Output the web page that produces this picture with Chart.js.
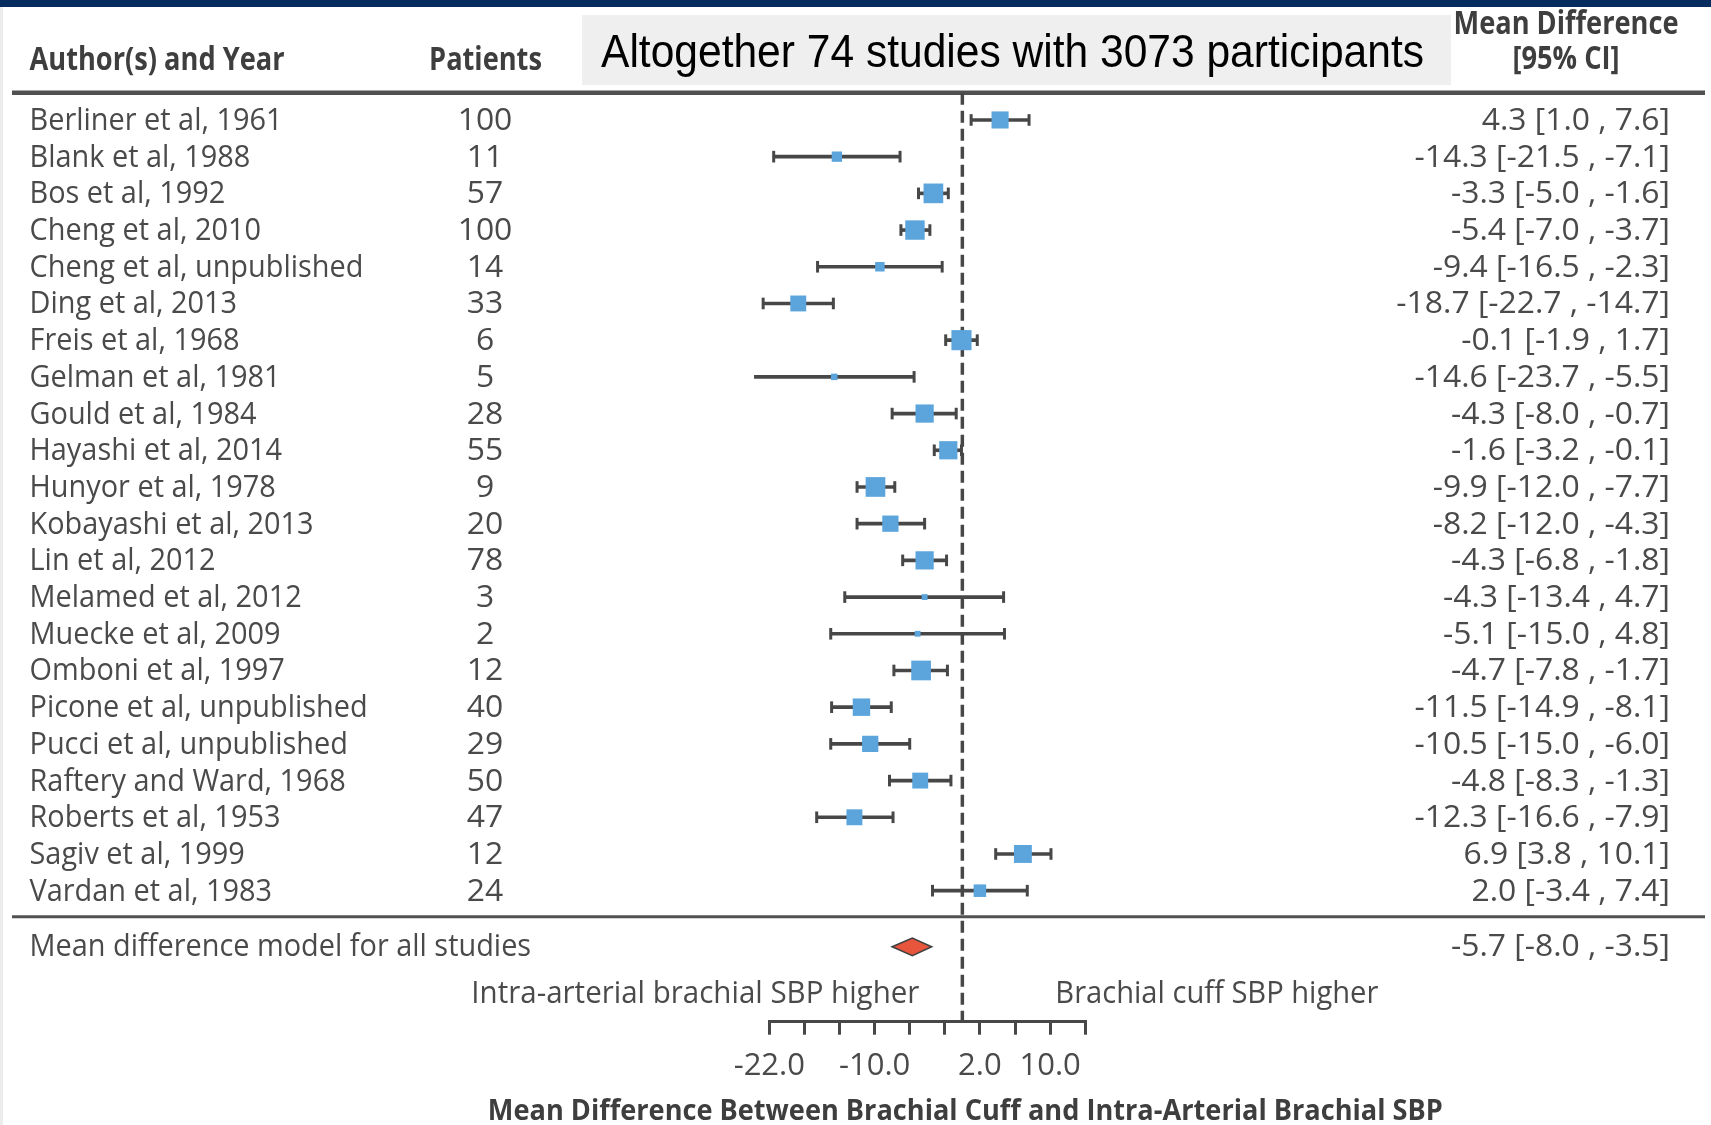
<!DOCTYPE html>
<html>
<head>
<meta charset="utf-8">
<script src="https://cdn.jsdelivr.net/npm/chart.js@4/dist/chart.umd.min.js"></script>
<style>
html,body{margin:0;padding:0;background:#fff;}
#wrap{width:1711px;height:1125px;position:relative;}
canvas{display:block;}
</style>
</head>
<body>
<div id="wrap"><canvas id="c" width="1711" height="1125"></canvas></div>
<script>
// ---------------- DATA ----------------
const studies = [
  "Berliner et al, 1961", "Blank et al, 1988", "Bos et al, 1992", "Cheng et al, 2010",
  "Cheng et al, unpublished", "Ding et al, 2013", "Freis et al, 1968", "Gelman et al, 1981",
  "Gould et al, 1984", "Hayashi et al, 2014", "Hunyor et al, 1978", "Kobayashi et al, 2013",
  "Lin et al, 2012", "Melamed et al, 2012", "Muecke et al, 2009", "Omboni et al, 1997",
  "Picone et al, unpublished", "Pucci et al, unpublished", "Raftery and Ward, 1968",
  "Roberts et al, 1953", "Sagiv et al, 1999", "Vardan et al, 1983"
];
const patients = [100, 11, 57, 100, 14, 33, 6, 5, 28, 55, 9, 20, 78, 3, 2, 12, 40, 29, 50, 47, 12, 24];
const meanDiff = [4.3, -14.3, -3.3, -5.4, -9.4, -18.7, -0.1, -14.6, -4.3, -1.6, -9.9, -8.2, -4.3, -4.3, -5.1, -4.7, -11.5, -10.5, -4.8, -12.3, 6.9, 2.0];
const ciLower  = [1.0, -21.5, -5.0, -7.0, -16.5, -22.7, -1.9, -23.7, -8.0, -3.2, -12.0, -12.0, -6.8, -13.4, -15.0, -7.8, -14.9, -15.0, -8.3, -16.6, 3.8, -3.4];
const ciUpper  = [7.6, -7.1, -1.6, -3.7, -2.3, -14.7, 1.7, -5.5, -0.7, -0.1, -7.7, -4.3, -1.8, 4.7, 4.8, -1.7, -8.1, -6.0, -1.3, -7.9, 10.1, 7.4];
// estimated study weights (%) read from the square sizes
const weights  = [5.2, 1.9, 6.9, 6.7, 1.6, 4.5, 7.2, 0.75, 5.9, 5.9, 6.9, 4.7, 5.9, 0.6, 0.6, 6.9, 5.4, 4.7, 4.5, 4.5, 5.7, 2.8];
const summaryLabel = "Mean difference model for all studies";
const summaryMean = -5.7, summaryLower = -8.0, summaryUpper = -3.5;
const tickLabels = [-22, -10, 2, 10];
const axisMin = -22, axisMax = 14, axisStep = 4;
const referenceValue = 0;
const headerStudy = "Author(s) and Year";
const headerPatients = "Patients";
const headerMD1 = "Mean Difference";
const headerMD2 = "[95% CI]";
const boxText = "Altogether 74 studies with 3073 participants";
const leftDirection = "Intra-arterial brachial SBP higher";
const rightDirection = "Brachial cuff SBP higher";
const axisTitle = "Mean Difference Between Brachial Cuff and Intra-Arterial Brachial SBP";

// ---------------- LAYOUT (rows in y units) ----------------
const rowTop = -0.74, rowBottom = 24.57;
const separatorRow = 21.71, summaryRow = 22.53;

const TEXT = '#4a4a4a', HEAD = '#3e3e3e', LINE = '#474747';
const fmt = v => v.toFixed(1);
const ciText = (m, lo, hi) => fmt(m) + ' [' + fmt(lo) + ' , ' + fmt(hi) + ']';

const squares = meanDiff.map((m, i) => ({x: m, y: i}));
const ciBars = meanDiff.map((m, i) => ({x: [ciLower[i], ciUpper[i]], y: i}));
const caps = [];
ciLower.forEach((lo, i) => { caps.push({x: lo, y: i}); caps.push({x: ciUpper[i], y: i}); });
const squareRadius = weights.map(w => 7.5 * Math.sqrt(w) / Math.SQRT2);

function measure(ctx, font, s) { ctx.save(); ctx.font = font; const w = ctx.measureText(s).width; ctx.restore(); return w; }
function txt(ctx, s, x, y, font, color, align, sx) {
  ctx.save();
  ctx.font = font; ctx.fillStyle = color; ctx.textBaseline = 'alphabetic'; ctx.textAlign = 'left';
  const w = ctx.measureText(s).width * sx;
  const x0 = align === 'left' ? x : (align === 'right' ? x - w : x - w / 2);
  ctx.translate(x0, y); ctx.scale(sx, 1); ctx.fillText(s, 0, 0);
  ctx.restore();
}

const REG = "31px 'Open Sans'";
const BOLD = "bold 32px 'Open Sans'";
const BOXF = "46px 'Liberation Sans'";
const TITLEF = "bold 28px 'Open Sans'";

const decor = {
  id: 'decor',
  beforeDraw(chart) {
    const ctx = chart.ctx;
    ctx.save();
    ctx.fillStyle = '#fff'; ctx.fillRect(0, 0, chart.width, chart.height);
    ctx.fillStyle = '#062b5e'; ctx.fillRect(0, 0, chart.width, 7);
    ctx.fillStyle = '#ececec'; ctx.fillRect(0, 7, 3, chart.height - 7);
    ctx.fillStyle = '#efefef'; ctx.fillRect(582, 15, 869, 70);
    ctx.restore();
    const sxBox = 823 / measure(ctx, BOXF, boxText);
    txt(ctx, boxText, 1012.5, 66.5, BOXF, '#000', 'center', sxBox);
    const sxBold = 255 / measure(ctx, BOLD, headerStudy);
    txt(ctx, headerStudy, 29.5, 69.5, BOLD, HEAD, 'left', sxBold);
    txt(ctx, headerPatients, 485.5, 69.5, BOLD, HEAD, 'center', sxBold);
    txt(ctx, headerMD1, 1566, 33.5, BOLD, HEAD, 'center', sxBold);
    txt(ctx, headerMD2, 1566, 68.5, BOLD, HEAD, 'center', sxBold);
    const ys = chart.scales.y;
    ctx.save();
    ctx.strokeStyle = '#505050';
    ctx.lineWidth = 4.5;
    ctx.beginPath(); ctx.moveTo(12, ys.getPixelForValue(rowTop)); ctx.lineTo(1705, ys.getPixelForValue(rowTop)); ctx.stroke();
    ctx.lineWidth = 3;
    ctx.beginPath(); ctx.moveTo(12, ys.getPixelForValue(separatorRow)); ctx.lineTo(1705, ys.getPixelForValue(separatorRow)); ctx.stroke();
    ctx.restore();
  },
  afterDraw(chart) {
    const ctx = chart.ctx, xs = chart.scales.x, ys = chart.scales.y;
    const sxReg = 253 / measure(ctx, REG, studies[0]);
    const sxNum = 219 / measure(ctx, REG, ciText(summaryMean, summaryLower, summaryUpper));
    studies.forEach((s, i) => {
      const y = ys.getPixelForValue(i) + 10;
      txt(ctx, s, 29.5, y, REG, TEXT, 'left', sxReg);
      txt(ctx, String(patients[i]), 485, y, REG, TEXT, 'center', sxNum);
      txt(ctx, ciText(meanDiff[i], ciLower[i], ciUpper[i]), 1670, y, REG, TEXT, 'right', sxNum);
    });
    const sy = ys.getPixelForValue(summaryRow);
    txt(ctx, summaryLabel, 29.5, sy + 9, REG, TEXT, 'left', sxReg);
    txt(ctx, ciText(summaryMean, summaryLower, summaryUpper), 1670, sy + 9, REG, TEXT, 'right', sxNum);
    ctx.save();
    ctx.beginPath();
    ctx.moveTo(xs.getPixelForValue(summaryLower), sy);
    ctx.lineTo(xs.getPixelForValue(summaryMean), sy - 8.8);
    ctx.lineTo(xs.getPixelForValue(summaryUpper), sy);
    ctx.lineTo(xs.getPixelForValue(summaryMean), sy + 8.8);
    ctx.closePath();
    ctx.fillStyle = '#e8553d'; ctx.fill();
    ctx.lineWidth = 1.6; ctx.strokeStyle = '#404040'; ctx.stroke();
    ctx.restore();
    const x0 = xs.getPixelForValue(referenceValue);
    const sxL = 448 / measure(ctx, REG, leftDirection);
    const sxR = 323 / measure(ctx, REG, rightDirection);
    txt(ctx, leftDirection, x0 - 43, 1002.7, REG, TEXT, 'right', sxL);
    txt(ctx, rightDirection, x0 + 93, 1002.7, REG, TEXT, 'left', sxR);
    const sxT = 955 / measure(ctx, TITLEF, axisTitle);
    txt(ctx, axisTitle, x0 + 3, 1119.5, TITLEF, HEAD, 'center', sxT);
  }
};

new Chart(document.getElementById('c'), {
  type: 'scatter',
  data: {
    datasets: [
      {
        type: 'scatter', label: 'Mean difference', data: squares, order: 0,
        pointStyle: 'rect', pointRadius: squareRadius, pointBackgroundColor: '#5ba5dc',
        pointBorderWidth: 0, clip: false
      },
      {
        type: 'scatter', label: 'CI caps', data: caps, order: 1,
        pointStyle: 'line', pointRotation: 90, pointRadius: 5.8,
        pointBorderWidth: 3, pointBorderColor: LINE, clip: false
      },
      {
        type: 'bar', label: '95% CI', data: ciBars, indexAxis: 'y', order: 2,
        backgroundColor: LINE, borderWidth: 0, barThickness: 3, clip: false
      },
      {
        type: 'line', label: 'No difference', order: 3,
        data: [{x: referenceValue, y: rowTop}, {x: referenceValue, y: rowBottom}],
        borderColor: LINE, borderWidth: 3.5, borderDash: [12, 6], pointRadius: 0, clip: false
      }
    ]
  },
  options: {
    responsive: false,
    animation: false,
    events: [],
    devicePixelRatio: 1,
    layout: { padding: { left: 769.3, right: 1711 - 1085.2, top: 92.8, bottom: 1125 - 1021.7 - 80 } },
    plugins: { legend: { display: false }, tooltip: { enabled: false }, title: { display: false } },
    scales: {
      x: {
        type: 'linear', position: 'bottom', min: axisMin, max: axisMax, offset: false,
        afterFit: (s) => { s.height = 80; },
        afterBuildTicks: (s) => {
          const t = []; for (let v = axisMin; v <= axisMax; v += axisStep) t.push({value: v}); s.ticks = t;
        },
        ticks: {
          autoSkip: false, maxRotation: 0, padding: 13,
          font: { family: "'Open Sans'", size: 31 }, color: TEXT,
          callback: (v) => tickLabels.includes(v) ? fmt(v) : ''
        },
        grid: { display: true, drawOnChartArea: false, drawTicks: true, tickLength: 13, lineWidth: 3, color: LINE, offset: false },
        border: { display: true, width: 3, color: LINE }
      },
      y: {
        type: 'linear', display: false, reverse: true, min: rowTop, max: rowBottom, offset: false,
        grid: { offset: false }
      }
    }
  },
  plugins: [decor]
});
</script>
</body>
</html>
